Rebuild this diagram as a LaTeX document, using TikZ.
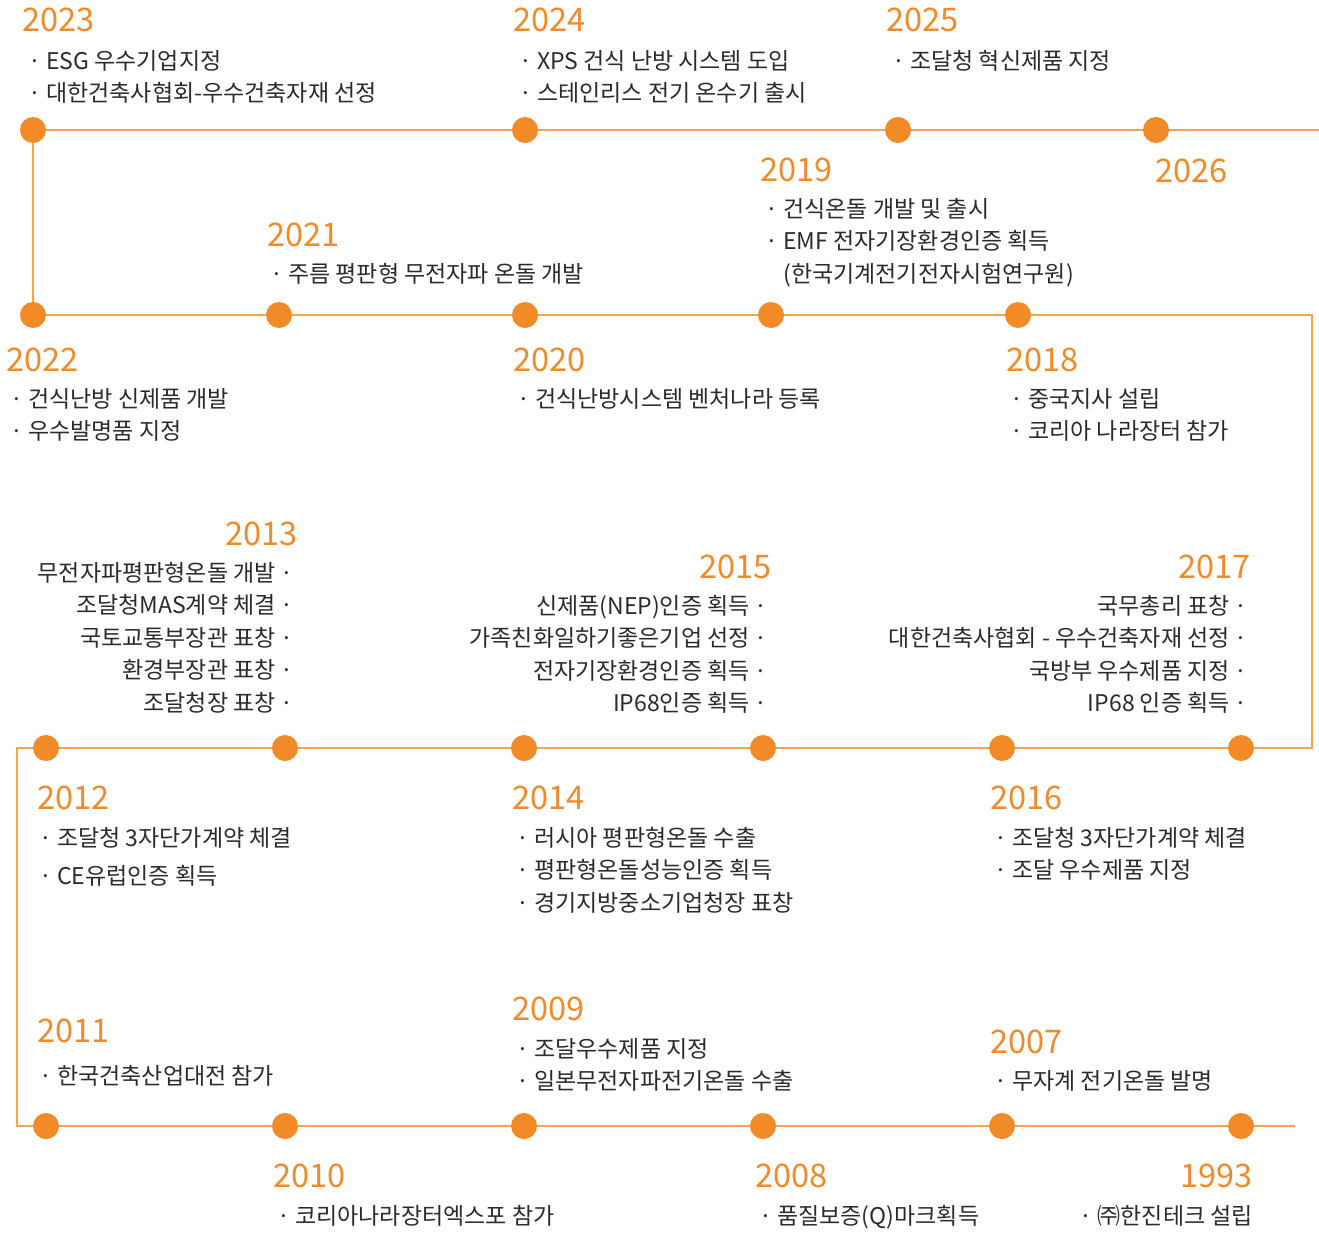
\documentclass[tikz,border=0pt]{standalone}
\usepackage{fontspec}
\setmainfont{Noto Sans CJK KR}
\usepackage{xcolor}
\usepackage{tikz}
\usetikzlibrary{positioning,backgrounds}

\definecolor{dotorange}{HTML}{F28A27}
\definecolor{lineorange}{HTML}{F5A450}
\definecolor{bodygray}{HTML}{2B2B2B}

\begin{document}
\begin{tikzpicture}[
    x=1pt, y=-1pt,
    dot/.style={circle, fill=dotorange, inner sep=0pt, minimum size=26pt},
    tline/.style={draw=lineorange, line width=1.8pt},
    year/.style={text=dotorange, inner sep=0pt, font=\fontsize{32.5}{36}\selectfont},
    items/.style={text=bodygray, inner sep=0pt, align=left, anchor=north west, font=\fontsize{23}{32.5}\selectfont},
    ritems/.style={items, align=right, anchor=north east}
]
\useasboundingbox (0,0) rectangle (1319,1236);

% Row 1
\node[dot] (d2023) at (33,130) {};
\node[dot] (d2024) at (525,130) {};
\node[dot] (d2025) at (898,130) {};
\node[dot] (d2026) at (1156,130) {};
\coordinate (e1) at (1319,130);

% Row 2
\node[dot] (d2022) at (33,315) {};
\node[dot] (d2021) at (279,315) {};
\node[dot] (d2020) at (525,315) {};
\node[dot] (d2019) at (771,315) {};
\node[dot] (d2018) at (1018,315) {};
\coordinate (c2) at (1312,315);
\coordinate (c3) at (1312,748);

% Row 3
\node[dot] (d2012) at (46,748) {};
\node[dot] (d2013) at (285,748) {};
\node[dot] (d2014) at (524,748) {};
\node[dot] (d2015) at (763,748) {};
\node[dot] (d2016) at (1002,748) {};
\node[dot] (d2017) at (1241,748) {};
\coordinate (c4) at (17,748);
\coordinate (c5) at (17,1126);

% Row 4
\node[dot] (d2011) at (46,1126) {};
\node[dot] (d2010) at (285,1126) {};
\node[dot] (d2009) at (524,1126) {};
\node[dot] (d2008) at (763,1126) {};
\node[dot] (d2007) at (1002,1126) {};
\node[dot] (d1993) at (1241,1126) {};
\coordinate (e4) at (1295,1126);

% Timeline behind the dots
\begin{scope}[on background layer]
\fill[white] (0,0) rectangle (1319,1236);
\draw[tline] (e1) -- (d2023.center) -- (d2022.center) -- (c2) -- (c3) -- (c4) -- (c5) -- (e4);
\end{scope}

% Years
\node[year, anchor=west] (y2023) at (22,20) {2023};
\node[year, anchor=west] (y2024) at (513,20) {2024};
\node[year, anchor=west] (y2025) at (886,20) {2025};
\node[year, anchor=west] (y2026) at (1155,171) {2026};
\node[year, anchor=west] (y2019) at (760,170) {2019};
\node[year, anchor=west] (y2021) at (267,235) {2021};
\node[year, anchor=west] (y2022) at (6,360) {2022};
\node[year, anchor=west] (y2020) at (513,360) {2020};
\node[year, anchor=west] (y2018) at (1006,360) {2018};
\node[year, anchor=east] (y2013) at (298,534) {2013};
\node[year, anchor=east] (y2015) at (772,567) {2015};
\node[year, anchor=east] (y2017) at (1251,567) {2017};
\node[year, anchor=west] (y2012) at (37,798) {2012};
\node[year, anchor=west] (y2014) at (512,798) {2014};
\node[year, anchor=west] (y2016) at (990,798) {2016};
\node[year, anchor=west] (y2011) at (37,1031) {2011};
\node[year, anchor=west] (y2009) at (512,1009) {2009};
\node[year, anchor=west] (y2007) at (990,1042) {2007};
\node[year, anchor=west] (y2010) at (273,1176) {2010};
\node[year, anchor=west] (y2008) at (755,1176) {2008};
\node[year, anchor=east] (y1993) at (1253,1176) {1993};

% Items
\node[items] (t2023) at (28,50) {· ESG 우수기업지정\\· 대한건축사협회-우수건축자재 선정};
\node[items] (t2024) at (519,50) {· XPS 건식 난방 시스템 도입\\· 스테인리스 전기 온수기 출시};
\node[items] (t2025) at (892,50) {· 조달청 혁신제품 지정};
\node[items] (t2019) at (765,198) {· 건식온돌 개발 및 출시\\· EMF 전자기장환경인증 획득\\\phantom{·\ }(한국기계전기전자시험연구원)};
\node[items] (t2021) at (270,263) {· 주름 평판형 무전자파 온돌 개발};
\node[items] (t2022) at (10,388) {· 건식난방 신제품 개발\\· 우수발명품 지정};
\node[items] (t2020) at (517,388) {· 건식난방시스템 벤처나라 등록};
\node[items] (t2018) at (1010,388) {· 중국지사 설립\\· 코리아 나라장터 참가};
\node[ritems] (t2013) at (294,562) {무전자파평판형온돌 개발 ·\\조달청MAS계약 체결 ·\\국토교통부장관 표창 ·\\환경부장관 표창 ·\\조달청장 표창 ·};
\node[ritems] (t2015) at (768,595) {신제품(NEP)인증 획득 ·\\가족친화일하기좋은기업 선정 ·\\전자기장환경인증 획득 ·\\IP68인증 획득 ·};
\node[ritems] (t2017) at (1248,595) {국무총리 표창 ·\\대한건축사협회 - 우수건축자재 선정 ·\\국방부 우수제품 지정 ·\\IP68 인증 획득 ·};
\node[items] (t2012) at (39,827) {· 조달청 3자단가계약 체결\\[5.5pt]· CE유럽인증 획득};
\node[items] (t2014) at (516,827) {· 러시아 평판형온돌 수출\\· 평판형온돌성능인증 획득\\· 경기지방중소기업청장 표창};
\node[items] (t2016) at (994,827) {· 조달청 3자단가계약 체결\\· 조달 우수제품 지정};
\node[items] (t2011) at (39,1065) {· 한국건축산업대전 참가};
\node[items] (t2009) at (516,1038) {· 조달우수제품 지정\\· 일본무전자파전기온돌 수출};
\node[items] (t2007) at (994,1070) {· 무자계 전기온돌 발명};
\node[items] (t2010) at (277,1205) {· 코리아나라장터엑스포 참가};
\node[items] (t2008) at (759,1205) {· 품질보증(Q)마크획득};
\node[items, anchor=north east] (t1993) at (1253,1205) {· ㈜한진테크 설립};

\end{tikzpicture}
\end{document}
